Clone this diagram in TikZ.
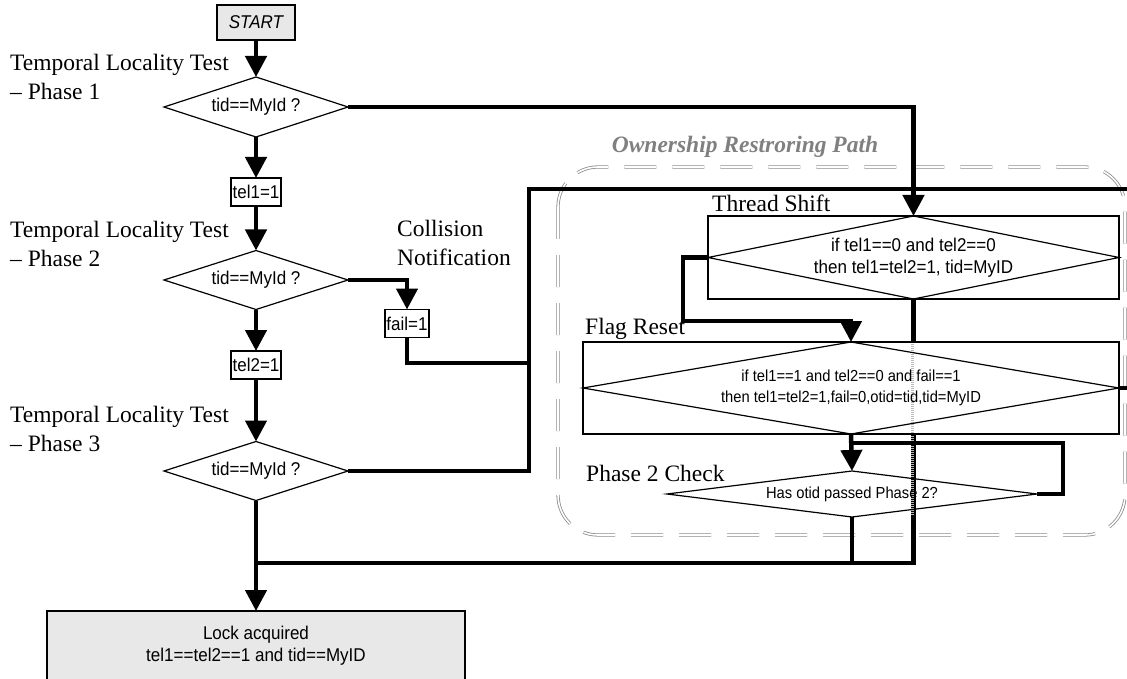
\documentclass[tikz,border=0pt]{standalone}
\usepackage{fontspec}
\setmainfont{Liberation Serif}
\newfontfamily\flowfont[FakeStretch=0.92]{Liberation Sans}
\usepackage{tikz}
\usetikzlibrary{arrows.meta, shapes.geometric}

\begin{document}
\begin{tikzpicture}[x=1pt, y=-1pt, >={Triangle[length=21pt,width=21pt]},
    flow/.style={line width=4.5pt},
    test/.style={diamond, draw, line width=1.2pt, inner sep=0pt, outer sep=0pt, align=center,
        font=\flowfont\fontsize{18.5}{22}\selectfont},
    flag/.style={rectangle, draw, line width=1.2pt, inner sep=1.5pt, outer sep=0pt, minimum height=28pt,
        font=\flowfont\fontsize{18.5}{22}\selectfont},
    greybox/.style={flag, fill=gray!18},
    boxframe/.style={rectangle, draw, line width=1.2pt, inner sep=0pt, outer sep=0pt},
    phaselabel/.style={anchor=west, align=left, inner sep=0pt, font=\fontsize{23.5}{29}\selectfont}]

    \useasboundingbox (0,0) rectangle (1127,679);

    % Ownership restoring region
    \draw[gray!90, line width=0.8pt, double=white, double distance=1.6pt,
        dash pattern=on 32pt off 16pt, rounded corners=40pt] (558,167) rectangle (1125,535);
    \node[phaselabel, anchor=center, text=gray, font=\bfseries\itshape\fontsize{23.5}{29}\selectfont]
        (orp) at (745,147) {Ownership Restroring Path};

    % Main column
    \node[greybox, minimum width=78pt, minimum height=35pt,
        font=\flowfont\itshape\fontsize{18.5}{22}\selectfont] (start) at (256,22.5) {START};
    \node[test, minimum width=184pt, minimum height=60pt, aspect=3.1] (d1) at (256,107) {tid==MyId ?};
    \node[flag] (tel1) at (256,192) {tel1=1};
    \node[test, minimum width=184pt, minimum height=59pt, aspect=3.1] (d2) at (256,280) {tid==MyId ?};
    \node[flag] (tel2) at (256,365) {tel2=1};
    \node[test, minimum width=184pt, minimum height=59pt, aspect=3.1] (d3) at (256,471) {tid==MyId ?};
    \node[greybox, minimum width=418pt, minimum height=70pt, align=center] (lock) at (256,646)
        {Lock acquired\\tel1==tel2==1 and tid==MyID};
    \node[flag] (fail) at (407,323.5) {fail=1};

    \node[phaselabel] (cap1) at (10,76.5) {Temporal Locality Test\\– Phase 1};
    \node[phaselabel] (cap2) at (10,243.5) {Temporal Locality Test\\– Phase 2};
    \node[phaselabel] (cap3) at (10,428.5) {Temporal Locality Test\\– Phase 3};
    \node[phaselabel] (coll) at (397,242.5) {Collision\\Notification};

    % Thread shift
    \node[boxframe, minimum width=411pt, minimum height=83pt] (tsbox) at (913.5,257.5) {};
    \node[test, minimum width=411pt, minimum height=83pt, aspect=4.95] (ts) at (913.5,257.5)
        {if tel1==0 and tel2==0\\then tel1=tel2=1, tid=MyID};
    \node[phaselabel] (tslab) at (712,203) {Thread Shift};

    \coordinate (bus) at (529,189);
    \coordinate (busend) at (1140,189);
    \coordinate (failend) at (529,363);
    \coordinate (bend) at (683,321);
    \coordinate (loop) at (1063,443);
    \coordinate (join) at (256,563);
    \coordinate (frend) at (1140,388);

    \draw[flow] (ts.south) |- (join);
    \draw[white, line width=4.5pt] (913.5,342) -- (913.5,434);
    \draw[gray!55, line width=2.5pt, dash pattern=on 1pt off 1pt] (912.5,342) -- (912.5,516);

    % Flag reset and phase 2 check
    \node[boxframe, minimum width=536pt, minimum height=92pt] (frbox) at (851,388) {};
    \node[test, minimum width=536pt, minimum height=92pt, aspect=5.8,
        font=\flowfont\fontsize{16}{21}\selectfont] (fr) at (851,388)
        {if tel1==1 and tel2==0 and fail==1\\then tel1=tel2=1,fail=0,otid=tid,tid=MyID};
    \node[phaselabel] (frlab) at (585,329) {Flag Reset};
    \node[test, minimum width=370pt, minimum height=46pt, aspect=8,
        font=\flowfont\fontsize{16}{21}\selectfont] (p2) at (852,494) {Has otid passed Phase 2?};
    \node[phaselabel] (p2lab) at (586,473) {Phase 2 Check};

    % Connectors
    \draw[flow,->] (start.south) -- (d1.north);
    \draw[flow,->] (d1.south) -- (tel1.north);
    \draw[flow,->] (tel1.south) -- (d2.north);
    \draw[flow,->] (d2.south) -- (tel2.north);
    \draw[flow,->] (tel2.south) -- (d3.north);
    \draw[flow,->] (d3.south) -- (lock.north);
    \draw[flow,->] (d1.east) -| (ts.north);
    \draw[flow,->] (d2.east) -| (fail.north);
    \draw[flow] (fail.south) |- (failend);
    \draw[flow] (d3.east) -| (bus) -- (busend);
    \draw[flow,->] (ts.west) -| (bend) -| (fr.north);
    \draw[flow,->] (fr.south) -- (p2.north);
    \draw[flow] (p2.east) -| (loop) -- (loop -| fr.south);
    \draw[flow] (p2.south) -- (p2.south |- join);
    \draw[flow] (fr.east) -- (frend);
\end{tikzpicture}
\end{document}
